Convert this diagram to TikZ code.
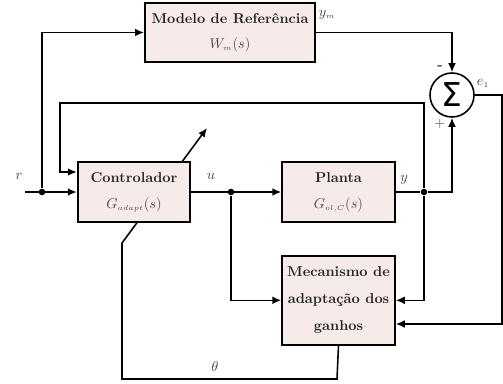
\documentclass[tikz,border=0pt]{standalone}
\usepackage{fontspec}
\newfontfamily\sigmafont{DejaVu Sans}
\usetikzlibrary{positioning,arrows.meta,backgrounds}
\definecolor{boxfill}{HTML}{F6EBE8}
\newcommand{\mathlbl}[1]{\textcolor{black!70}{#1}}
\tikzset{
  block/.style={draw, line width=1.4pt, fill=boxfill, align=center,
    minimum width=78.75pt, minimum height=42pt, font=\bfseries, text=black!85},
  sumnode/.style={draw, circle, line width=1.1pt, minimum size=30.8pt, inner sep=0pt},
  dot/.style={circle, fill, inner sep=0pt, minimum size=4.6pt},
  sig/.style={line width=1.1pt, -{Latex[length=6.3pt,width=5.5pt]}},
  wire/.style={line width=1.1pt},
  lbl/.style={text=black!75, inner sep=1pt},
}
\begin{document}
\begin{tikzpicture}[x=0.7pt,y=-0.7pt]
\useasboundingbox (0,0) rectangle (503,383);
\node[block] (ctrl) at (134,192) {Controlador\\[6pt]\mathlbl{$G_{\scriptscriptstyle adapt}(s)$}};
\node[block, right=63pt of ctrl] (planta) {Planta\\[6pt]\mathlbl{$G_{\scriptscriptstyle ol,C}(s)$}};
\node[block, below=22.4pt of planta, minimum height=62pt] (mech) {Mecanismo de\\[7pt]adaptação dos\\[7pt]ganhos};
\node[block, minimum width=119pt, minimum height=41pt] (modelo) at (230,32.5) {Modelo de Referência\\[5.5pt]\mathlbl{$W_{\scriptscriptstyle m}(s)$}};
\node[sumnode] (sum) at (452,95) {\sigmafont\fontsize{23}{23}\selectfont Σ};
\coordinate (rin) at (25,192);
\node[dot] (jr) at (42,192) {};
\node[dot] (ju) at (231,192) {};
\node[dot] (jy) at (424,192) {};
\node[lbl] (rl) at (19,176) {$r$};
\node[lbl] (ul) at (211,176) {$u$};
\node[lbl] (yl) at (404,180) {$y$};
\node[lbl] (yml) at (327,15) {$y_{\scriptscriptstyle m}$};
\node[lbl] (el) at (483,83) {$e_{\scriptscriptstyle 1}$};
\node[lbl] (thl) at (215,367) {$\theta$};
\node[lbl] (mn) at (440,68) {\bfseries -};
\node[lbl] (pl) at (440,124) {$+$};
% sinal de referencia
\draw[sig] (rin) -- (ctrl.west);
\draw[sig] (jr) |- (modelo.west);
\draw[sig] (modelo.east) -| (sum.north);
% malha da planta
\draw[sig] (ctrl.east) -- (planta.west);
\draw[wire] (planta.east) -- (jy);
\draw[sig] (jy) -| (sum.south);
\draw[sig] (jy) -- (424,103) -| (60,172) -- (ctrl.west |- 0,172);
% adaptacao
\draw[sig] (ju) |- (mech.west);
\draw[sig] (jy) |- (mech.east);
\draw[sig] (sum.east) -| (502,324) -- (mech.east |- 0,324);
\begin{scope}[on background layer]
\draw[sig] (mech.south) -- (337,379) -| (122,243) -- (207,128);
\end{scope}
\end{tikzpicture}
\end{document}
